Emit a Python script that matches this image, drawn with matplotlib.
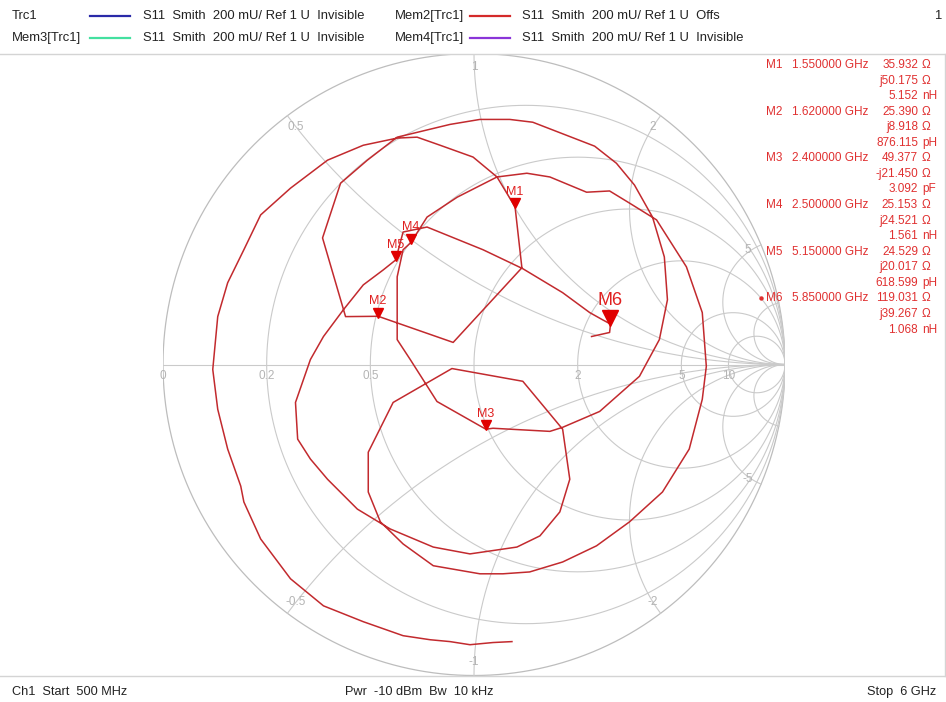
import numpy as np
import matplotlib
matplotlib.use("Agg")
import matplotlib.pyplot as plt
from matplotlib.lines import Line2D

W, H = 946, 702
FONT = ["Liberation Sans", "DejaVu Sans"]
plt.rcParams["font.family"] = FONT

# ---------------- data ----------------
# measured trace (reflection coefficient, real / imaginary), 500 MHz -> 6 GHz
trace_re = [0.122, 0.061, -0.013, -0.077, -0.141, -0.228, -0.356, -0.484, -0.590, -0.686,
            -0.740, -0.750, -0.792, -0.824, -0.840, -0.824, -0.792, -0.740, -0.686, -0.590,
            -0.471, -0.356, -0.247, -0.183, -0.109, -0.003, 0.074, 0.132, 0.154, -0.067,
            -0.308, -0.413, -0.487, -0.429, -0.343, -0.247, -0.077, 0.019, 0.115, 0.189,
            0.388, 0.458, 0.516, 0.574, 0.612, 0.622, 0.596, 0.532, 0.404, 0.285,
            0.244, 0.061, 0.038, -0.119, -0.205, -0.247, -0.247, -0.228, -0.203, -0.151,
            -0.054, 0.074, 0.170, 0.244, 0.362, 0.436, 0.500, 0.587, 0.683, 0.734,
            0.747, 0.734, 0.692, 0.606, 0.500, 0.394, 0.285, 0.179, 0.093, 0.019,
            -0.131, -0.228, -0.301, -0.340, -0.340, -0.260, -0.071, 0.157, 0.285, 0.308,
            0.276, 0.212, 0.138, -0.013, -0.131, -0.269, -0.375, -0.471, -0.526, -0.567,
            -0.574, -0.526, -0.484, -0.420, -0.356, -0.292, -0.252, -0.228, -0.151, 0.029,
            0.157, 0.285, 0.372, 0.413, 0.439, 0.436, 0.378]
trace_im = [-0.891, -0.894, -0.901, -0.891, -0.885, -0.872, -0.827, -0.776, -0.689, -0.561,
            -0.442, -0.391, -0.272, -0.144, -0.016, 0.154, 0.263, 0.369, 0.481, 0.567,
            0.657, 0.705, 0.728, 0.731, 0.705, 0.667, 0.603, 0.507, 0.311, 0.071,
            0.155, 0.154, 0.407, 0.583, 0.657, 0.731, 0.772, 0.788, 0.788, 0.779,
            0.702, 0.647, 0.577, 0.474, 0.346, 0.208, 0.080, -0.038, -0.151, -0.202,
            -0.215, -0.205, -0.208, -0.119, 0.016, 0.080, 0.282, 0.369, 0.392, 0.474,
            0.538, 0.603, 0.615, 0.603, 0.554, 0.558, 0.519, 0.465, 0.314, 0.167,
            -0.006, -0.112, -0.272, -0.410, -0.506, -0.583, -0.635, -0.667, -0.673, -0.673,
            -0.647, -0.577, -0.506, -0.410, -0.282, -0.122, -0.013, -0.054, -0.208, -0.369,
            -0.474, -0.551, -0.587, -0.609, -0.587, -0.529, -0.465, -0.369, -0.304, -0.240,
            -0.122, 0.016, 0.090, 0.176, 0.256, 0.304, 0.336, 0.426, 0.442, 0.369,
            0.308, 0.231, 0.167, 0.144, 0.130, 0.103, 0.090]

marker_names = ["M1", "M2", "M3", "M4", "M5", "M6"]
marker_freq = ["1.550000 GHz", "1.620000 GHz", "2.400000 GHz",
               "2.500000 GHz", "5.150000 GHz", "5.850000 GHz"]
marker_R = [35.932, 25.390, 49.377, 25.153, 24.529, 119.031]
marker_X = [50.175, 8.918, -21.450, 24.521, 20.017, 39.267]
marker_LC_val = ["5.152", "876.115", "3.092", "1.561", "618.599", "1.068"]
marker_LC_unit = ["nH", "pH", "pF", "nH", "pH", "nH"]
active_marker = "M6"
Z0 = 50.0

res_grid = [0.2, 0.5, 1, 2, 5, 10]
react_grid = [0.5, 1, 2, 5, 10]
res_labels = [(0, "0"), (0.2, "0.2"), (0.5, "0.5"), (2, "2"), (5, "5"), (10, "10")]
react_labels = [(0.5, "0.5"), (1, "1"), (2, "2"), (5, "5"),
                (-0.5, "-0.5"), (-1, "-1"), (-2, "-2"), (-5, "-5")]

header_rows = [
    [("Trc1", "#2a2aa8", "S11  Smith  200 mU/ Ref 1 U  Invisible"),
     ("Mem2[Trc1]", "#d42a2a", "S11  Smith  200 mU/ Ref 1 U  Offs")],
    [("Mem3[Trc1]", "#44e0a0", "S11  Smith  200 mU/ Ref 1 U  Invisible"),
     ("Mem4[Trc1]", "#8a35d8", "S11  Smith  200 mU/ Ref 1 U  Invisible")],
]
footer_left = "Ch1  Start  500 MHz"
footer_mid = "Pwr  -10 dBm  Bw  10 kHz"
footer_right = "Stop  6 GHz"

# ---------------- figure ----------------
fig = plt.figure(figsize=(W / 100, H / 100), dpi=100)
fig.patch.set_facecolor("white")

def fx(px):
    return px / W

def fy(py):
    return 1 - py / H

cx, cy, R = 474.0, 364.5, 311.0
ax = fig.add_axes([fx(cx - R), fy(cy + R), 2 * R / W, 2 * R / H])
ax.set_xlim(-1, 1)
ax.set_ylim(-1, 1)
ax.set_axis_off()

GRID = "#cacaca"
LBL = "#b4b4b4"
t = np.linspace(0, 2 * np.pi, 721)
ax.plot(np.cos(t), np.sin(t), color="#bdbdbd", lw=0.9, zorder=1)
ax.plot([-1, 1], [0, 0], color=GRID, lw=0.8, zorder=1)
for r in res_grid:
    c = r / (1 + r)
    rad = 1 / (1 + r)
    ax.plot(c + rad * np.cos(t), rad * np.sin(t), color=GRID, lw=0.8, zorder=1)
rr = np.concatenate([np.linspace(0, 1, 200), np.logspace(0, 4, 400)])
for xv in react_grid:
    for s in (1, -1):
        z = rr + 1j * s * xv
        g = (z - 1) / (z + 1)
        ax.plot(g.real, g.imag, color=GRID, lw=0.8, zorder=1)

for r, lab in res_labels:
    gx = (r - 1) / (r + 1)
    ax.annotate(lab, (gx, 0), xytext=(0, -8), textcoords="offset points",
                ha="center", va="center", fontsize=8.5, color=LBL)
for xv, lab in react_labels:
    g = (1j * xv - 1) / (1j * xv + 1)
    g = g * 0.955
    ax.text(g.real, g.imag, lab, ha="center", va="center", fontsize=8.5, color=LBL)

# trace
ax.plot(trace_re, trace_im, color="#c22a2e", lw=1.1, zorder=3, solid_joinstyle="round")

# markers
for name, rv, xv in zip(marker_names, marker_R, marker_X):
    z = complex(rv, xv) / Z0
    g = (z - 1) / (z + 1)
    big = name == active_marker
    ms = 11 if big else 7
    ax.plot([g.real], [g.imag], marker="v", ms=ms, color="#e00000", mec="#e00000",
            zorder=5, linestyle="none",
            transform=ax.transData + matplotlib.transforms.ScaledTranslation(
                0, (ms * 0.38) / 72, fig.dpi_scale_trans))
    ax.annotate(name, (g.real, g.imag), xytext=(0, 17 if big else 11),
                textcoords="offset points", ha="center", va="center",
                fontsize=13 if big else 9, color="#e02020", zorder=6)

# frame lines
for (x0, y0, x1, y1) in [(0, 53.5, 946, 53.5), (0, 676, 946, 676), (945, 53.5, 945, 676)]:
    fig.add_artist(Line2D([fx(x0), fx(x1)], [fy(y0), fy(y1)], color="#d4d4d4", lw=1.0))

# header
HC = "#222222"
col_x = [(12, 90, 130, 143), (395, 470, 510, 522)]
for row, y in zip(header_rows, [16, 38]):
    for (lab, col, desc), (xl, xa, xb, xd) in zip(row, col_x):
        fig.text(fx(xl), fy(y), lab, fontsize=9.4, color=HC, va="center", ha="left")
        fig.add_artist(Line2D([fx(xa), fx(xb)], [fy(y), fy(y)], color=col, lw=1.6))
        fig.text(fx(xd), fy(y), desc, fontsize=9.4, color=HC, va="center", ha="left")
fig.text(fx(941), fy(16), "1", fontsize=9.4, color=HC, va="center", ha="right")

# footer
fig.text(fx(12), fy(692), footer_left, fontsize=9.2, color=HC, va="center", ha="left")
fig.text(fx(345), fy(692), footer_mid, fontsize=9.2, color=HC, va="center", ha="left")
fig.text(fx(936), fy(692), footer_right, fontsize=9.2, color=HC, va="center", ha="right")

# marker readout
RC = "#e03030"
row = 0
for name, fr, rv, xv, lcv, lcu in zip(marker_names, marker_freq, marker_R, marker_X,
                                      marker_LC_val, marker_LC_unit):
    y0 = 65 + 15.56 * row
    if name == active_marker:
        fig.add_artist(Line2D([fx(761)], [fy(y0)], marker="o", ms=2.2, color=RC,
                              linestyle="none"))
    fig.text(fx(766), fy(y0), name, fontsize=8.5, color=RC, va="center", ha="left")
    fig.text(fx(868), fy(y0), fr, fontsize=8.5, color=RC, va="center", ha="right")
    xs = f"j{xv:.3f}" if xv >= 0 else f"-j{abs(xv):.3f}"
    for k, (val, unit) in enumerate([(f"{rv:.3f}", "\u03a9"), (xs, "\u03a9"), (lcv, lcu)]):
        yy = y0 + 15.56 * k
        fig.text(fx(918), fy(yy), val, fontsize=8.5, color=RC, va="center", ha="right")
        fig.text(fx(922), fy(yy), unit, fontsize=8.5, color=RC, va="center", ha="left")
    row += 3

fig.savefig("out.png", dpi=100, facecolor="white")
